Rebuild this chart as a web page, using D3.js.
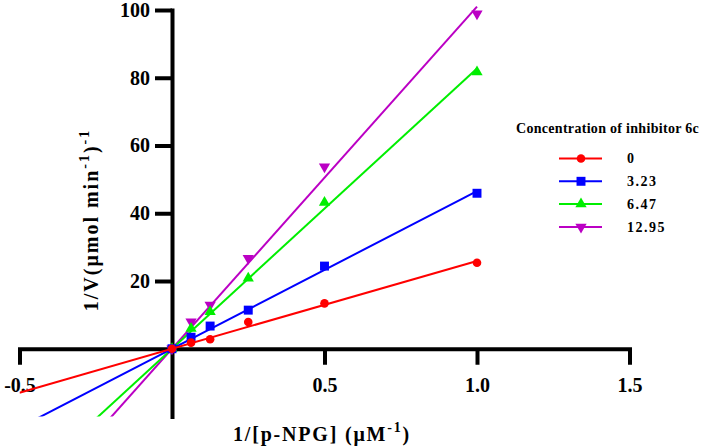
<!DOCTYPE html>
<html><head><meta charset="utf-8">
<script src="https://cdn.jsdelivr.net/npm/d3@7"></script>
<style>body{margin:0;background:#fff}svg{display:block}</style>
</head><body><svg id="c" width="701" height="448"></svg>
<script>
// ---- data ----
const xValues = [0, 0.0625, 0.125, 0.25, 0.5, 1.0];
const conc0    = [0, 1.8, 2.8, 7.9, 13.4, 25.4];
const conc3_23 = [0, 3.4, 6.7, 11.4, 24.4, 45.9];
const conc6_47 = [0, 6.0, 10.9, 20.8, 43.2, 81.7];
const conc12_95 = [0, 8.0, 12.9, 26.7, 53.7, 98.9];
const seriesNames = ["0", "3.23", "6.47", "12.95"];
const seriesColors = ["#ff0000", "#0000ff", "#00ee00", "#bb00c4"];
const seriesSymbols = ["circle", "square", "triangle", "triangleDown"];
const xTicks = [-0.5, 0.5, 1.0, 1.5];
const yTicks = [20, 40, 60, 80, 100];
const legendTitle = "Concentration of inhibitor 6c";

const seriesValues = [conc0, conc3_23, conc6_47, conc12_95];
const series = seriesNames.map((n, i) => ({
  name: n, color: seriesColors[i], symbol: seriesSymbols[i],
  points: xValues.map((x, j) => ({x, y: seriesValues[i][j]}))
}));
// least-squares fit through origin (as in the reference)
series.forEach(s => {
  const sxy = d3.sum(s.points, p => p.x * p.y);
  const sxx = d3.sum(s.points, p => p.x * p.x);
  s.slope = sxy / sxx;
});

const FONT = "'Liberation Serif','Times New Roman',serif";
const svg = d3.select("#c");
const x = d3.scaleLinear().domain([-0.5, 1.5]).range([19.5, 629.5]);
const y = d3.scaleLinear().domain([-20, 100]).range([416.5, 10]);

svg.append("defs").append("clipPath").attr("id", "plotclip")
  .append("rect").attr("x", x(-0.5)).attr("y", 0)
  .attr("width", x(1.5) - x(-0.5)).attr("height", y(-20));

// axes
const xAxis = svg.append("g").attr("transform", `translate(0,${y(0)})`)
  .call(d3.axisBottom(x).tickValues(xTicks).tickSize(16).tickSizeOuter(0)
    .tickPadding(13).tickFormat(d => d.toFixed(1)));
const yAxis = svg.append("g").attr("transform", `translate(${x(0)},0)`)
  .call(d3.axisLeft(y).tickValues(yTicks).tickSize(17).tickSizeOuter(0)
    .tickPadding(5).tickFormat(d => d));
[xAxis, yAxis].forEach(g => {
  g.selectAll("path.domain").attr("stroke", "#000").attr("stroke-width", 4)
    .attr("stroke-linecap", "square");
  g.selectAll(".tick line").attr("stroke", "#000").attr("stroke-width", 4);
  g.selectAll(".tick text").attr("fill", "#000").attr("font-family", FONT)
    .attr("font-weight", "bold").attr("font-size", 20);
});
xAxis.selectAll(".tick text").attr("dy", "0.71em");

// axis titles
const xt = svg.append("text").attr("x", 322).attr("y", 441).attr("text-anchor", "middle")
  .attr("font-family", FONT).attr("font-weight", "bold").attr("font-size", 20)
  .attr("letter-spacing", 1.8);
xt.append("tspan").text("1/[p-NPG] (\u03bcM");
xt.append("tspan").attr("font-size", 14).attr("dy", -9).text("-1");
xt.append("tspan").attr("dy", 9).text(")");

const yt = svg.append("text").attr("transform", "translate(98,220) rotate(-90)")
  .attr("text-anchor", "middle")
  .attr("font-family", FONT).attr("font-weight", "bold").attr("font-size", 20)
  .attr("letter-spacing", 2);
yt.append("tspan").text("1/V(\u03bcmol min");
yt.append("tspan").attr("font-size", 14).attr("dy", -9).text("-1");
yt.append("tspan").attr("dy", 9).text(")");
yt.append("tspan").attr("font-size", 14).attr("dy", -9).text("-1");

// symbols
function symPath(kind, size) {
  const t = kind === "circle" ? d3.symbolCircle : kind === "square" ? d3.symbolSquare : d3.symbolTriangle;
  return d3.symbol().type(t).size(size)();
}
const symSize = {circle: 58, square: 80, triangle: 55, triangleDown: 55};
function symTransform(kind, px, py) {
  return kind === "triangleDown" ? `translate(${px},${py}) rotate(180)` : `translate(${px},${py})`;
}

// series: draw in reverse so red is on top
const plot = svg.append("g");
series.slice().reverse().forEach(s => {
  const fitXs = [-0.5, 1.0];
  plot.append("path").attr("clip-path", "url(#plotclip)")
    .attr("d", d3.line().x(d => x(d)).y(d => y(s.slope * d))(fitXs))
    .attr("fill", "none").attr("stroke", s.color).attr("stroke-width", 2);
  plot.selectAll(null).data(s.points).enter().append("path")
    .attr("d", symPath(s.symbol, symSize[s.symbol]))
    .attr("transform", d => symTransform(s.symbol, x(d.x), y(d.y)))
    .attr("fill", s.color);
});

// legend
const lg = svg.append("g");
lg.append("text").attr("x", 516).attr("y", 132.5).text(legendTitle)
  .attr("font-family", FONT).attr("font-weight", "bold").attr("font-size", 14)
  .attr("letter-spacing", 0.3);
series.forEach((s, i) => {
  const cy = 158.5 + i * 22.8;
  lg.append("line").attr("x1", 559).attr("x2", 602).attr("y1", cy).attr("y2", cy)
    .attr("stroke", s.color).attr("stroke-width", 2);
  lg.append("path").attr("d", symPath(s.symbol, symSize[s.symbol]))
    .attr("transform", symTransform(s.symbol, 581, cy)).attr("fill", s.color);
  lg.append("text").attr("x", 627).attr("y", cy).attr("dy", "0.35em").text(s.name)
    .attr("font-family", FONT).attr("font-weight", "bold").attr("font-size", 14)
    .attr("letter-spacing", 1.5);
});
</script></body></html>
